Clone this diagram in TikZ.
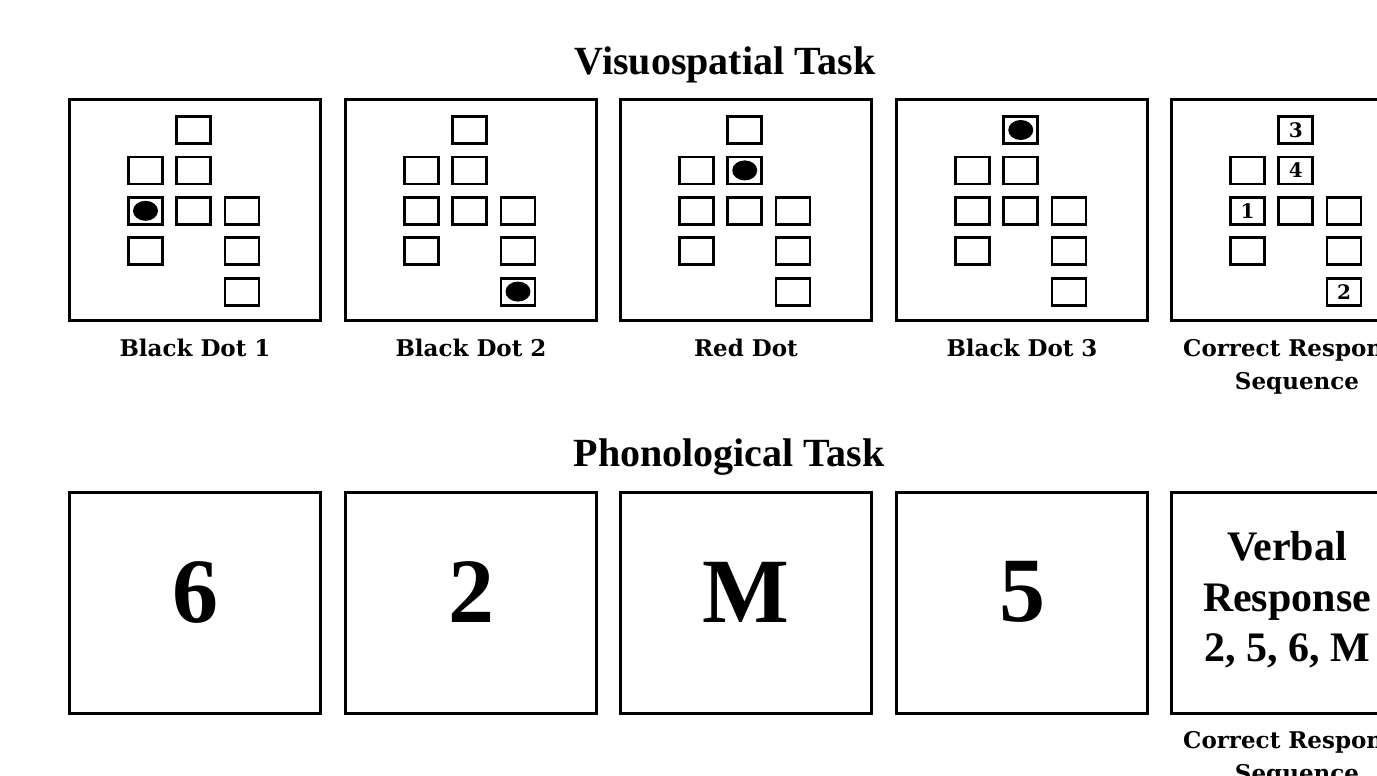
\documentclass[tikz,border=0pt]{standalone}
\usepackage{fontspec}
\setmainfont{Liberation Serif}
\newfontfamily\slabfont{DejaVu Serif}
\usetikzlibrary{positioning}

\begin{document}
\begin{tikzpicture}[x=0.5pt, y=-0.5pt,
    quadro/.style={draw, line width=1.5pt, minimum width=125.5pt, minimum height=110.5pt, inner sep=0pt},
    casa/.style={draw, line width=1.4pt, minimum width=17pt, minimum height=13.5pt, inner sep=0pt},
    numero/.style={inner sep=0pt, font=\slabfont\bfseries\fontsize{10}{10}\selectfont},
    rotulo/.style={inner sep=0pt, align=center, font=\slabfont\bfseries\fontsize{11.5}{16.5}\selectfont},
    titulo/.style={inner sep=0pt, font=\bfseries\fontsize{20}{20}\selectfont},
    grande/.style={inner sep=0pt, font=\bfseries\fontsize{46}{46}\selectfont}]
    \useasboundingbox (0,0) rectangle (1377,776);
    \clip (0,0) rectangle (1377,776);
    % Tarefa visuoespacial
    \node[titulo] (tv) at (725,65) {Visuospatial Task};
    \foreach \i/\xc/\txt in {1/195/Black Dot 1, 2/471/Black Dot 2, 3/746/Red Dot,
                             4/1022/Black Dot 3, 5/1297/Correct Response\\Sequence} {
        \node[quadro] (p\i) at (\xc,210) {};
        % grelha de casas (coluna/linha)
        \foreach \col/\lin in {2/0, 1/1, 2/1, 1/2, 2/2, 3/2, 1/3, 3/3, 3/4}
            \node[casa] (p\i-\col\lin) at ({\xc-49.5+48.25*(\col-1)}, {130+40.4*\lin}) {};
        \node[rotulo, below=8.5pt of p\i] (r\i) {\txt};
    }
    % Pontos pretos e ponto vermelho
    \fill (p1-12) ellipse [x radius=12.5, y radius=10];
    \fill (p2-34) ellipse [x radius=12.5, y radius=10];
    \fill (p3-21) ellipse [x radius=12.5, y radius=10];
    \fill (p4-20) ellipse [x radius=12.5, y radius=10];
    % Sequencia correta
    \node[numero] (n1) at (p5-12) {1};
    \node[numero] (n2) at (p5-34) {2};
    \node[numero] (n3) at (p5-20) {3};
    \node[numero] (n4) at (p5-21) {4};
    % Tarefa fonologica
    \node[titulo] (tf) at (729,457) {Phonological Task};
    \foreach \i/\xc/\txt in {1/195/6, 2/471/2, 3/746/M, 4/1022/5} {
        \node[quadro] (q\i) at (\xc,602.5) {};
        \node[grande] (c\i) at (\xc,592) {\txt};
    }
    \node[quadro] (q5) at (1297,602.5) {};
    \node[inner sep=0pt, align=center, font=\bfseries\fontsize{21}{25.25}\selectfont] (c5) at (1287,600)
        {Verbal\\Response\\2, 5, 6, M};
    \node[rotulo, below=8.5pt of q5] (r6) {Correct Response\\Sequence};
\end{tikzpicture}
\end{document}
